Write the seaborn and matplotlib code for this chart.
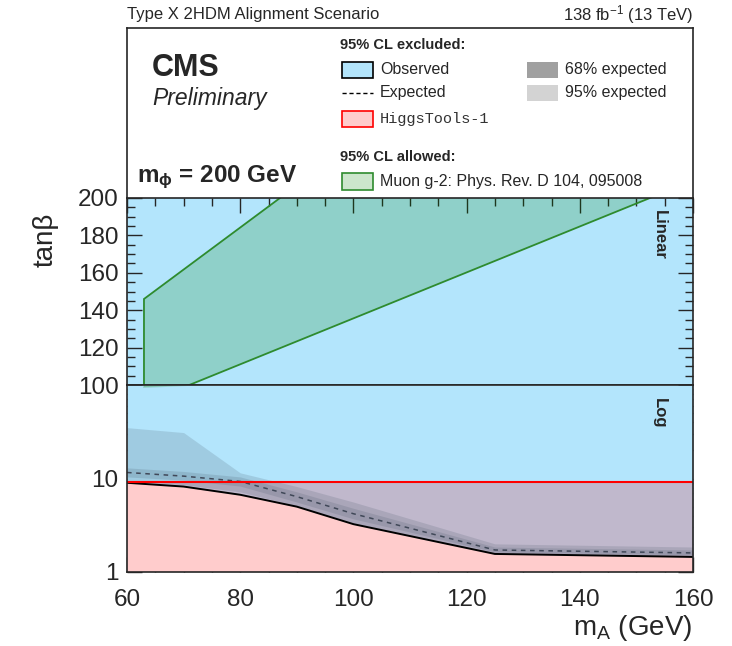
import matplotlib
matplotlib.use('Agg')
import matplotlib.pyplot as plt
from matplotlib.patches import Rectangle
from matplotlib.lines import Line2D
from matplotlib.ticker import MultipleLocator, LogLocator, NullFormatter, FixedLocator
import seaborn as sns

# Limits vs m_A (GeV)
m_a = [60, 70, 80, 90, 100, 125, 160]
obs_limit = [9.0, 8.2, 6.7, 5.0, 3.25, 1.56, 1.45]
exp_limit = [11.6, 10.6, 9.3, 6.4, 4.2, 1.72, 1.6]
exp_68_lo = [10.4, 9.6, 8.3, 5.6, 3.7, 1.64, 1.53]
exp_68_hi = [13.0, 11.9, 10.4, 7.2, 4.8, 1.85, 1.72]
exp_95_lo = [9.4, 8.6, 7.2, 5.1, 3.35, 1.58, 1.47]
exp_95_hi = [35.0, 31.0, 11.5, 8.2, 5.6, 2.0, 1.85]
higgstools_limit = 9.1

# Muon g-2 allowed region (polygon)
g2_ma = [63, 63, 93.7, 164.6, 71]
g2_tanb = [95, 146, 215, 215, 100]

x_ticks = [60, 80, 100, 120, 140, 160]
lin_ticks = [120, 140, 160, 180, 200]
log_ticks = [1, 10, 100]

sns.set_style("ticks")
plt.rcParams['font.family'] = ['Liberation Sans', 'DejaVu Sans']
plt.rcParams['mathtext.fontset'] = 'custom'
plt.rcParams['mathtext.rm'] = 'Liberation Sans'
plt.rcParams['mathtext.it'] = 'Liberation Sans:italic'
plt.rcParams['mathtext.bf'] = 'Liberation Sans:bold'

blue = '#b3e5fc'
pink = '#ffcccc'
purple = '#c0b8cc'

fig = plt.figure(figsize=(7.32, 6.46), dpi=100)
W, H = 732, 646
def px_axes(x0, y0, x1, y1):
    return fig.add_axes([x0 / W, 1 - y1 / H, (x1 - x0) / W, (y1 - y0) / H])

ax_leg = px_axes(127, 28, 693, 198)
ax_lin = px_axes(127, 198, 693, 385)
ax_log = px_axes(127, 385, 693, 572)

# ---- linear panel
ax_lin.set_facecolor(blue)
ax_lin.fill(g2_ma, g2_tanb, facecolor='green', alpha=0.2, edgecolor='none')
ax_lin.fill(g2_ma, g2_tanb, facecolor='none', edgecolor='#2e8b2e', lw=1.3)
ax_lin.set_xlim(60, 160)
ax_lin.set_ylim(100, 200)

# ---- log panel
ax_log.set_yscale('log')
ax_log.set_xlim(60, 160)
ax_log.set_ylim(1, 100)
ax_log.fill_between(m_a, obs_limit, 100, color=blue, lw=0)
ax_log.fill_between(m_a, 1, higgstools_limit, color=pink, lw=0)
ax_log.fill_between(m_a, obs_limit, higgstools_limit, color=purple, lw=0)
ax_log.fill_between(m_a, exp_95_lo, exp_95_hi, color='#405060', alpha=0.17, lw=0)
ax_log.fill_between(m_a, exp_68_lo, exp_68_hi, color='#405060', alpha=0.17, lw=0)
ax_log.fill(g2_ma, g2_tanb, facecolor='green', alpha=0.2, edgecolor='#2e8b2e', lw=1.3)
sns.lineplot(x=m_a, y=exp_limit, ax=ax_log, color='#404858', lw=1.1, linestyle=(0, (3, 3)))
sns.lineplot(x=m_a, y=obs_limit, ax=ax_log, color='black', lw=1.4)
ax_log.axhline(higgstools_limit, color='red', lw=1.5)

for ax in (ax_lin, ax_log):
    ax.xaxis.set_major_locator(FixedLocator(x_ticks))
    ax.xaxis.set_minor_locator(MultipleLocator(5))
    ax.tick_params(which='major', direction='in', length=11, width=1, labelsize=17.5,
                   left=True, right=True, pad=6)
    ax.tick_params(which='minor', direction='in', length=6, width=1, left=True, right=True)
    ax.set_xlabel('')
    ax.set_ylabel('')
    for s in ax.spines.values():
        s.set_linewidth(1.2)
        s.set_zorder(10)

ax_lin.tick_params(axis='x', which='both', bottom=False, top=True, labelbottom=False)
ax_lin.yaxis.set_major_locator(FixedLocator(lin_ticks))
ax_lin.yaxis.set_minor_locator(MultipleLocator(5))

ax_log.tick_params(axis='x', which='both', bottom=True, top=False, pad=12)
ax_log.yaxis.set_major_locator(FixedLocator(log_ticks))
ax_log.yaxis.set_major_formatter(matplotlib.ticker.FuncFormatter(lambda v, p: f'{v:g}'))
ax_log.yaxis.set_minor_locator(LogLocator(base=10, subs=range(2, 10)))
ax_log.yaxis.set_minor_formatter(NullFormatter())
ax_log.set_xticklabels([str(t) for t in x_ticks])

ax_lin.text(0.94, 0.8, 'Linear', transform=ax_lin.transAxes, rotation=270,
            ha='center', va='center', fontsize=12, fontweight='bold')
ax_log.text(0.94, 0.85, 'Log', transform=ax_log.transAxes, rotation=270,
            ha='center', va='center', fontsize=12, fontweight='bold')

# ---- legend box
ax_leg.set_xlim(0, 1)
ax_leg.set_ylim(0, 1)
ax_leg.set_xticks([])
ax_leg.set_yticks([])
for s in ax_leg.spines.values():
    s.set_linewidth(1.2)
ax_leg.spines['bottom'].set_visible(False)

ax_leg.text(0.044, 0.765, 'CMS', fontsize=22, fontweight='bold', va='center')
ax_leg.text(0.044, 0.585, 'Preliminary', fontsize=16.5, style='italic', va='center')
ax_leg.text(0.018, 0.12, r'm$_{\mathbf{\phi}}$ = 200 GeV', fontsize=17.5, fontweight='bold',
            va='center')

ax_leg.text(0.376, 0.9, '95% CL excluded:', fontsize=10.5, fontweight='bold', va='center')
ax_leg.add_patch(Rectangle((0.380, 0.706), 0.055, 0.094, facecolor=blue, edgecolor='black', lw=1.2))
ax_leg.text(0.447, 0.753, 'Observed', fontsize=11.5, va='center')
ax_leg.add_line(Line2D([0.380, 0.435], [0.618, 0.618], color='black', lw=1, linestyle=(0, (3, 2))))
ax_leg.text(0.447, 0.618, 'Expected', fontsize=11.5, va='center')
ax_leg.add_patch(Rectangle((0.380, 0.42), 0.055, 0.094, facecolor=pink, edgecolor='red', lw=1.2))
ax_leg.text(0.447, 0.467, 'HiggsTools-1', fontsize=11, va='center', color='#333333',
            family=['Liberation Mono', 'DejaVu Sans Mono'])

ax_leg.add_patch(Rectangle((0.707, 0.706), 0.055, 0.094, facecolor='#a0a0a0', edgecolor='none'))
ax_leg.text(0.774, 0.753, '68% expected', fontsize=11.5, va='center')
ax_leg.add_patch(Rectangle((0.707, 0.571), 0.055, 0.094, facecolor='#d3d3d3', edgecolor='none'))
ax_leg.text(0.774, 0.618, '95% expected', fontsize=11.5, va='center')

ax_leg.text(0.376, 0.24, '95% CL allowed:', fontsize=10.5, fontweight='bold', va='center')
ax_leg.add_patch(Rectangle((0.380, 0.047), 0.055, 0.1, facecolor='#cce6cc', edgecolor='#2e8b2e', lw=1.2))
ax_leg.text(0.447, 0.097, 'Muon g-2: Phys. Rev. D 104, 095008', fontsize=11.5, va='center')

# ---- header and axis titles
fig.text(127 / W, 1 - 15 / H, 'Type X 2HDM Alignment Scenario', fontsize=12, ha='left', va='center')
fig.text(693 / W, 1 - 15 / H, r'138 fb$^{-1}$ (13 TeV)', fontsize=12, ha='right', va='center')
fig.text(46 / W, 1 - 240 / H, 'tanβ', fontsize=20, rotation=90, ha='center', va='center')
fig.text(692 / W, 1 - 628 / H, r'm$_{\rm A}$ (GeV)', fontsize=20, ha='right', va='center')

fig.savefig('out.png', dpi=100)
